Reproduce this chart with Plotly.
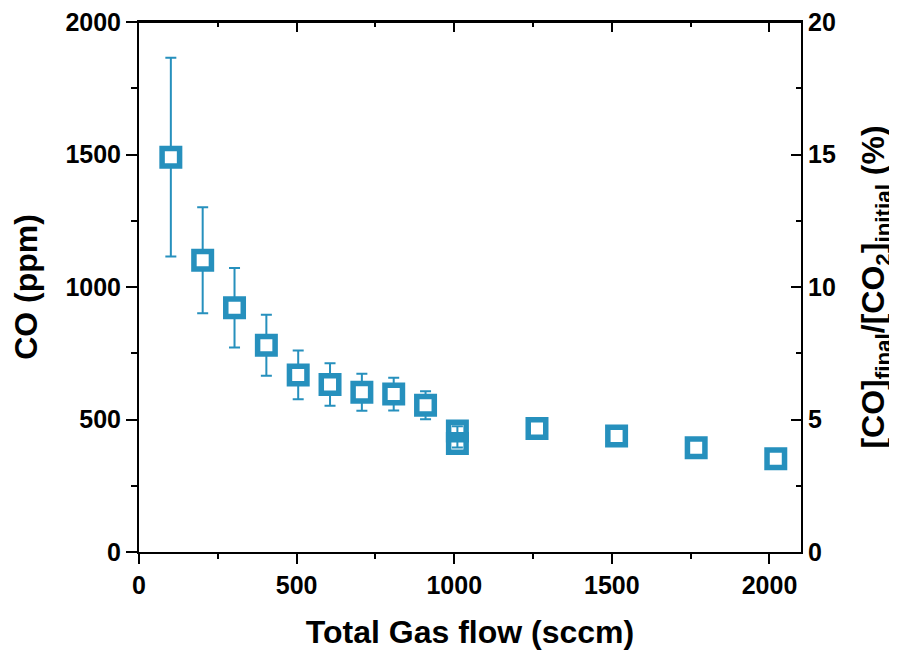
import plotly.graph_objects as go

flow = [101, 202, 303, 404, 505, 606, 707, 808, 909, 1010, 1010, 1262.5, 1515, 1767.5, 2020]
co_ppm = [1490, 1101, 922, 780, 668, 632, 603, 596, 554, 457, 409, 466, 438, 393, 352]
co_err = [375, 200, 150, 115, 92, 80, 70, 62, 53, 18, 15, 0, 0, 0, 0]
fill = ["white"] * 9 + ["rgba(0,0,0,0)"] * 2 + ["white"] * 4

x_ticks = [0, 500, 1000, 1500, 2000]
y_ticks = [0, 500, 1000, 1500, 2000]
y2_ticks = [0, 5, 10, 15, 20]

color = "#2690BD"
font = "Liberation Sans, Arial, sans-serif"

fig = go.Figure()
fig.add_trace(go.Scatter(
    x=flow, y=co_ppm, mode="markers",
    marker=dict(symbol="square", size=17.5, color=fill, line=dict(width=5.5, color=color)),
    error_y=dict(type="data", array=co_err, visible=True, color=color, thickness=2, width=5.5),
    showlegend=False,
))
# invisible trace to activate the secondary axes
fig.add_trace(go.Scatter(x=[None], y=[None], xaxis="x2", yaxis="y2", showlegend=False))

axis_common = dict(showline=True, linecolor="black", linewidth=2, showgrid=False, zeroline=False,
                   tickcolor="black", tickwidth=2, automargin=False, ticklabeloverflow="allow",
                   tickfont=dict(family=font, size=25, color="black", weight="bold"))
title_font = dict(family=font, size=32, color="black", weight="bold")

fig.update_layout(
    width=897, height=654,
    margin=dict(l=131, r=104, t=14, b=110),
    plot_bgcolor="white", paper_bgcolor="white",
    font=dict(family=font, color="black"),
    xaxis=dict(range=[0, 2100], tickvals=x_ticks, ticks="outside", ticklen=10, mirror=True,
               minor=dict(dtick=250, tick0=0, ticks="outside", ticklen=5, tickwidth=2, tickcolor="black"),
               title=dict(text="Total Gas flow (sccm)", font=title_font, standoff=23),
               **axis_common),
    xaxis2=dict(range=[0, 2100], overlaying="x", side="top", tickvals=x_ticks, ticks="inside", ticklen=10,
                showticklabels=False, anchor="y",
                minor=dict(dtick=250, tick0=0, ticks="inside", ticklen=5, tickwidth=2, tickcolor="black"),
                **axis_common),
    yaxis=dict(range=[0, 2000], tickvals=y_ticks, ticks="outside", ticklen=11,
               minor=dict(dtick=250, tick0=0, ticks="outside", ticklen=6, tickwidth=2, tickcolor="black"),
               title=dict(text="CO (ppm)", font=title_font, standoff=20),
               **axis_common),
    yaxis2=dict(range=[0, 20], overlaying="y", side="right", tickvals=y2_ticks, ticks="inside", ticklen=10,
                anchor="x",
                minor=dict(dtick=2.5, tick0=0, ticks="inside", ticklen=5, tickwidth=2, tickcolor="black"),
                title=dict(text="[CO]<sub>final</sub>/[CO<sub>2</sub>]<sub>initial</sub> (%)",
                           font=title_font, standoff=27),
                **axis_common),
)
# frame line along the top of the plotting area
fig.add_shape(type="line", xref="x domain", yref="y domain", x0=0, x1=1, y0=1, y1=1,
              line=dict(color="black", width=2), layer="above")

fig.write_html("out.html")
